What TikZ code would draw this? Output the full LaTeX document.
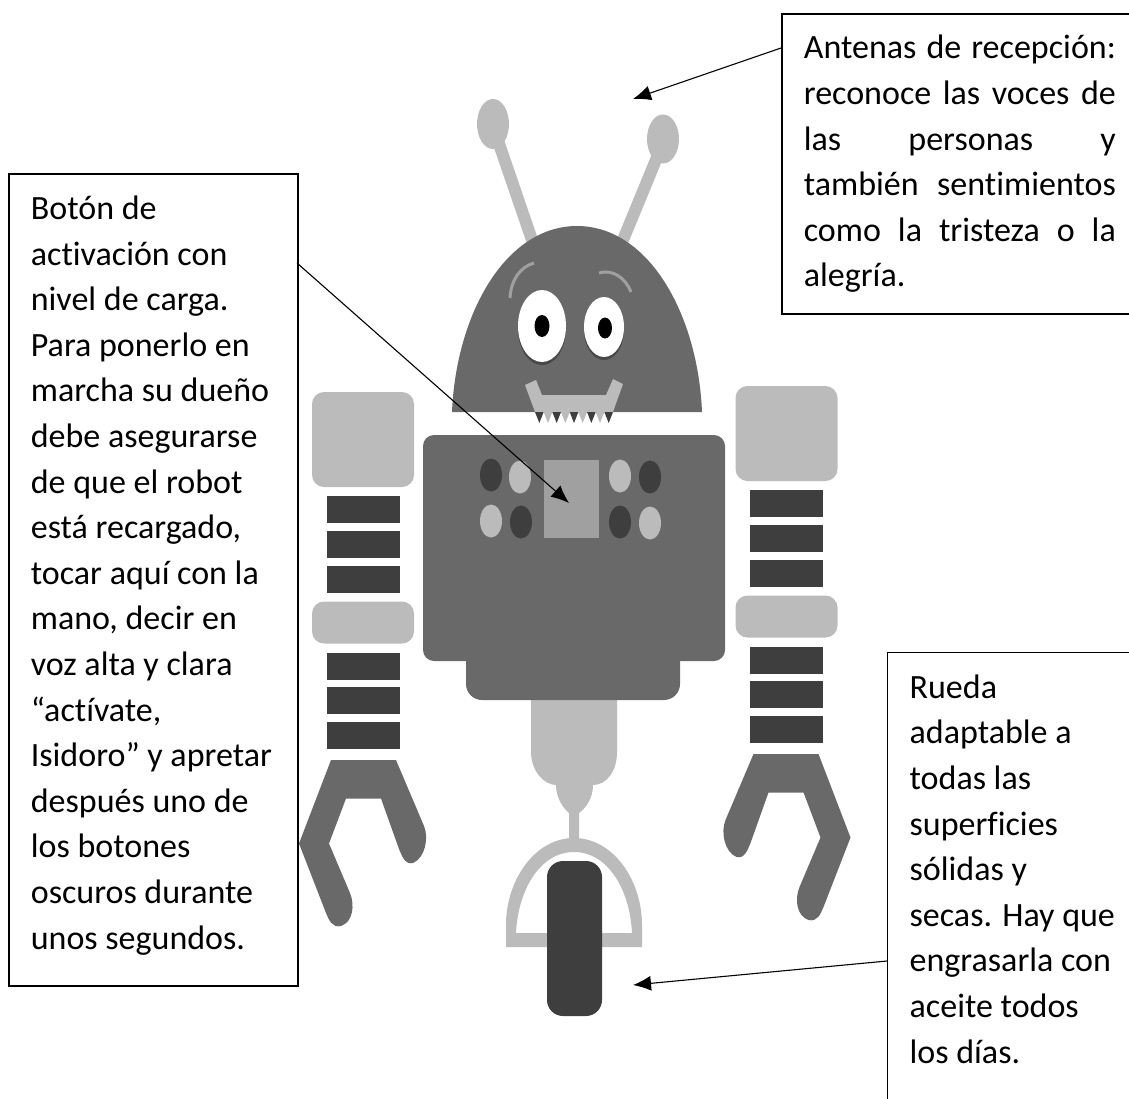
\documentclass[tikz,border=0pt]{standalone}
\usepackage{fontspec}
\setmainfont[Ligatures=NoCommon]{Carlito}
\usetikzlibrary{arrows.meta}

\definecolor{cuerpo}{HTML}{696969}
\definecolor{claro}{HTML}{BBBBBB}
\definecolor{oscuro}{HTML}{3E3E3E}
\definecolor{pantalla}{HTML}{A0A0A0}

\tikzset{
  cuadro/.style={draw=black,line width=1.7pt,anchor=north west,inner xsep=22pt,font=\fontsize{34}{45.6}\selectfont},
  flecha/.style={line width=1.1pt,-{Latex[length=18pt,width=15pt]}},
}

% one arm, drawn for the left side
\newcommand{\brazo}{
\fill[claro,rounded corners=12pt] (312,392) rectangle (414,487);
\fill[claro,rounded corners=12pt] (312,601.5) rectangle (414,643.5);
\foreach \ya in {496,531,566,652.5,687,722}
  \fill[oscuro] (326.5,\ya) rectangle (400,\ya+27);
\fill[cuerpo] (331,760) -- (396,760) -- (424,826) .. controls (429,838) and (425,858) .. (413,863)
  .. controls (405,865) and (402,856) .. (399,849) -- (381,798.5) -- (346,798.5) -- (329,843.5)
  -- (350,893) .. controls (355,905) and (353,922) .. (341,926) .. controls (332,928) and (329,920) .. (326,913)
  -- (299,843.5) -- cycle;
}

\begin{document}
\begin{tikzpicture}[x=1pt,y=-1pt]
\useasboundingbox (0,0) rectangle (1129,1098);

% antennas
\draw[claro,line width=12pt] (496,135) -- (532,240);
\draw[claro,line width=12pt] (660,150) -- (623,240);
\fill[claro] (493,124) ellipse (16 and 25);
\fill[claro] (663,139) ellipse (16 and 24.5);

% head
\fill[cuerpo] (452,412) .. controls (456,315) and (505,226) .. (577,226)
  .. controls (649,226) and (698,315) .. (702,412) -- cycle;
\draw[pantalla,line width=3pt] (510,298) .. controls (511,280) and (520,267) .. (534,263);
\draw[pantalla,line width=3pt] (599,273) .. controls (612,269) and (625,277) .. (631,292);
\fill[oscuro!80!cuerpo] (542,329) ellipse (24 and 36);
\fill[oscuro!80!cuerpo] (604,330) ellipse (20 and 30);
\fill[white] (542,326) ellipse (24 and 36);
\fill[white] (604,327) ellipse (20 and 30);
\fill[black] (542,326) ellipse (7.5 and 11);
\fill[black] (605,328) ellipse (7 and 10.5);

% mouth and teeth
\fill[claro] (525,385) -- (536,380) -- (542,395) -- (606,395) -- (613,379) -- (623,384) -- (613,412) -- (535,412) -- cycle;
\foreach \i in {0,...,8}{
  \pgfmathsetmacro{\xa}{535+8.67*\i}
  \pgfmathparse{int(mod(\i,2))}
  \ifnum\pgfmathresult=0
    \fill[oscuro] (\xa,412) -- (\xa+8.67,412) -- (\xa+4.33,423) -- cycle;
  \else
    \fill[claro] (\xa,412) -- (\xa+8.67,412) -- (\xa+4.33,423) -- cycle;
  \fi
}

% neck and support
\fill[claro] (531,690) -- (531,752) .. controls (531,772) and (545,785) .. (556,785)
  .. controls (556,798) and (563,808) .. (569,813) -- (569,842) -- (579,842) -- (579,813)
  .. controls (586,808) and (593,798) .. (593,785) .. controls (606,785) and (617,772) .. (617,752) -- (617,690) -- cycle;
\fill[claro,even odd rule] (506,947) -- (506,925) .. controls (506,880) and (535,838) .. (574,838)
  .. controls (613,838) and (642,880) .. (642,925) -- (642,947) -- cycle
  (516,933) .. controls (518,890) and (540,852) .. (574,852)
  .. controls (608,852) and (630,890) .. (632,933) -- cycle;
\fill[oscuro,rounded corners=16pt] (547,861) rectangle (602,1016);

% body
\fill[cuerpo,rounded corners=16pt] (466,640) rectangle (680,700);
\fill[cuerpo,rounded corners=11pt] (423,435) rectangle (725,661);
\fill[pantalla] (544,460) rectangle (599,538);
\foreach \xb/\yb/\tono in {491/475/oscuro,520/477/claro,620/476/claro,650/477/oscuro,491/521/claro,521/522/oscuro,620/522/oscuro,650/523/claro}
  \fill[\tono] (\xb,\yb) ellipse (11 and 16.5);

% arms
\brazo
\begin{scope}[shift={(1149.5,-6)},xscale=-1]
\brazo
\end{scope}

% text boxes
\node[cuadro,inner ysep=22pt,text width=245pt,align=flush left] (activacion) at (8,173) {Botón de\\activación con\\nivel de carga.\\Para ponerlo en\\marcha su dueño\\debe asegurarse\\de que el robot\\está recargado,\\tocar aquí con la\\mano, decir en\\voz alta y clara\\“actívate,\\Isidoro” y apretar\\después uno de\\los botones\\oscuros durante\\unos segundos.\\[-31pt]\mbox{}};
\node[cuadro,inner ysep=21.5pt,text width=312pt,align=justify] (antenas) at (781,13) {Antenas de recepción:\linebreak reconoce las voces de\linebreak las personas y\linebreak también sentimientos\linebreak como la tristeza o la\linebreak alegría.};
\node[cuadro,line width=1.3pt,inner ysep=22pt,text width=300pt,align=flush left] (rueda) at (887,652) {Rueda\\adaptable a\\todas las\\superficies\\sólidas y\\secas. Hay que\\engrasarla con\\aceite todos\\los días.\\[60pt]\mbox{}};

% arrows
\coordinate (salidaA) at (781,48);
\coordinate (puntaA) at (633,99);
\coordinate (salidaB) at (297,263);
\coordinate (puntaB) at (569,503);
\coordinate (salidaR) at (887,961);
\coordinate (puntaR) at (633,985);
\draw[flecha] (salidaA) -- (puntaA);
\draw[flecha] (salidaB) -- (puntaB);
\draw[flecha] (salidaR) -- (puntaR);
\end{tikzpicture}
\end{document}
